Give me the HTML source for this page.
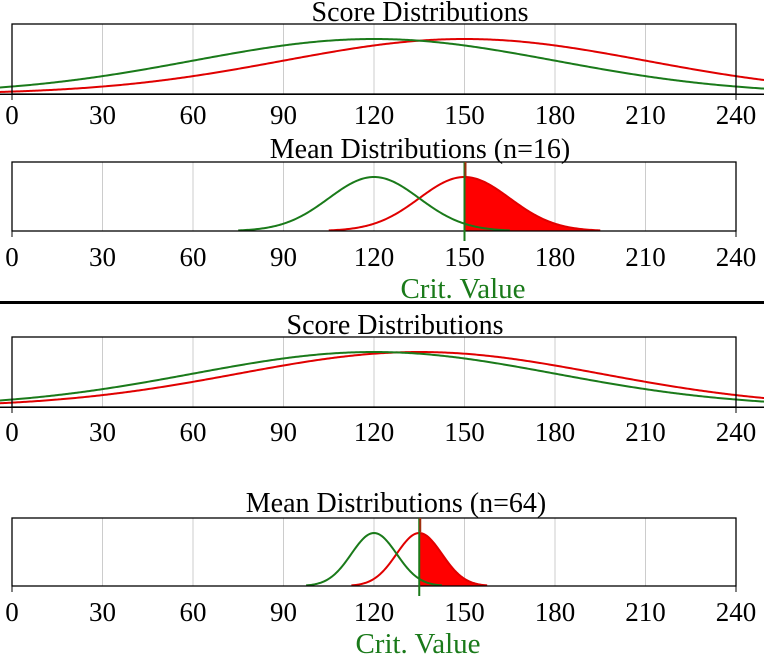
<!DOCTYPE html>
<html><head><meta charset="utf-8"><style>
html,body{margin:0;padding:0;background:#fff;}
svg{display:block;font-family:"Liberation Serif",serif;}
</style></head><body>
<svg id="s" width="764" height="660" xmlns="http://www.w3.org/2000/svg">
<rect width="764" height="660" fill="#fff"/>
<g font-size="28" text-anchor="middle">
<text x="420" y="21">Score Distributions</text>
<text x="420" y="158">Mean Distributions (n=16)</text>
<text x="395" y="334">Score Distributions</text>
<text x="396" y="512">Mean Distributions (n=64)</text>
<text x="463" y="298" fill="#1a7a1a" font-size="29">Crit. Value</text>
<text x="418" y="653" fill="#1a7a1a" font-size="29">Crit. Value</text>
</g>
<rect x="0" y="301" width="764" height="3" fill="#000"/>
<g id="g"></g>
</svg>
<script>
const NS="http://www.w3.org/2000/svg";
const g=document.getElementById('g');
function el(t,a,txt){const e=document.createElementNS(NS,t);for(const k in a)e.setAttribute(k,a[k]);if(txt!==undefined)e.textContent=txt;g.appendChild(e);return e;}
const X0=12,X1=736;const sx=v=>X0+v*(X1-X0)/240;
function gauss(m,s,top,base,h,lo,hi){let d='';for(let v=lo;v<=hi;v+=0.5){const x=sx(v),y=base-h*Math.exp(-((v-m)*(v-m))/(2*s*s));d+=(d?'L':'M')+x.toFixed(2)+','+y.toFixed(2);}return d;}
function panel(top,base,labY,m1,m2,sd,full,crit){
  for(let i=1;i<8;i++)el('line',{x1:sx(i*30),x2:sx(i*30),y1:top,y2:base,stroke:'#ccc','stroke-width':1});
  const h=base-top-15;
  let lo1,hi1,lo2,hi2;
  if(full){lo1=lo2=-4;hi1=hi2=250;}else{lo1=m1-3*sd;hi1=m1+3*sd;lo2=m2-3*sd;hi2=m2+3*sd;}
  if(crit!==undefined){
    let d='M'+sx(crit)+','+base+' '+gauss(m2,sd,top,base,h,crit,hi2).replace('M','L')+' L'+sx(hi2)+','+base+'Z';
    el('path',{d:d,fill:'#ff0000'});
  }
  el('path',{d:gauss(m2,sd,top,base,h,lo2,hi2),fill:'none',stroke:'#e00000','stroke-width':2});
  el('path',{d:gauss(m1,sd,top,base,h,lo1,hi1),fill:'none',stroke:'#1a7a1a','stroke-width':2});
  el('rect',{x:X0,y:top,width:X1-X0,height:base-top,fill:'none',stroke:'#000','stroke-width':1.3});
  if(full){el('rect',{x:0,y:base-0.5,width:764,height:1.5,fill:'#000'});}
  el('line',{x1:X0,x2:X0,y1:base,y2:base+6,stroke:'#000'});
  el('line',{x1:X1,x2:X1,y1:base,y2:base+6,stroke:'#000'});
  for(let i=0;i<=8;i++)el('text',{x:sx(i*30),y:labY,'font-size':27,'text-anchor':'middle'},String(i*30));
  if(crit!==undefined){
    el('line',{x1:sx(crit),x2:sx(crit),y1:top,y2:base+10,stroke:'#1a7a1a','stroke-width':2});
    el('line',{x1:sx(crit)+1,x2:sx(crit)+1,y1:top,y2:top+14,stroke:'#a03010','stroke-width':2});
  }
}
panel(24,94,124,120,150,60,true);
panel(162,231,266,120,150,15,false,150);
panel(337,407,441,120,135,60,true);
panel(518,586,621,120,135,7.5,false,135);
</script>
</body></html>
